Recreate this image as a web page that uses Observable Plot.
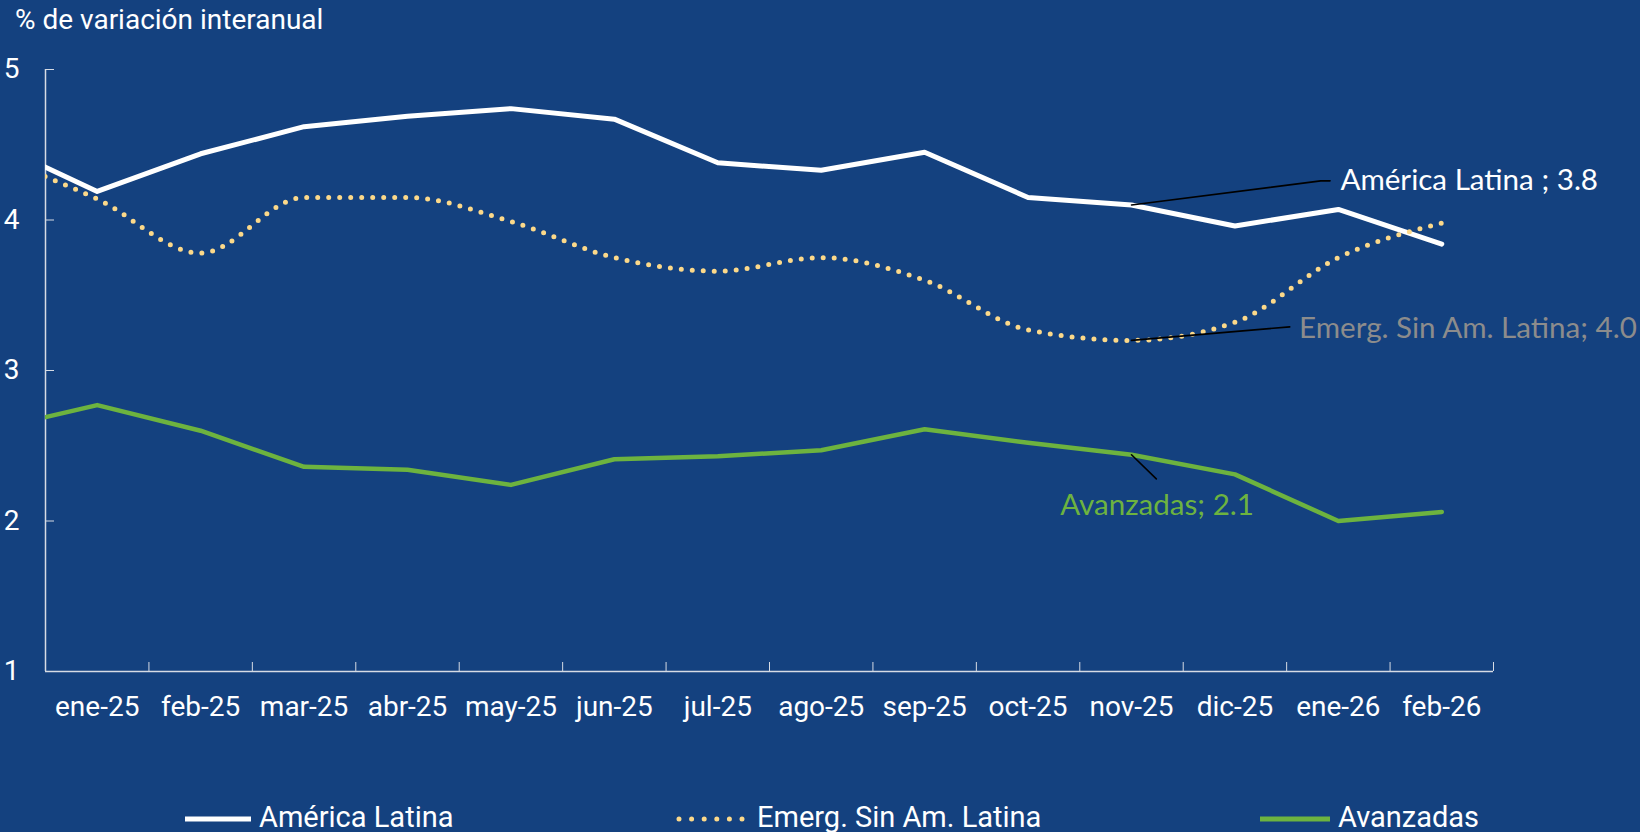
<!DOCTYPE html>
<html>
<head>
<meta charset="utf-8">
<script src="https://cdn.jsdelivr.net/npm/d3@7"></script>
<script src="https://cdn.jsdelivr.net/npm/@observablehq/plot@0.6"></script>
<style>
  html, body { margin: 0; padding: 0; background: #14417f; width: 1640px; height: 832px; overflow: hidden; font-family: Roboto, sans-serif; color: #fff; }
  #title { position: relative; height: 44px; }
  #title span { position: absolute; left: 15px; top: 6px; font-size: 28px; line-height: 28px; white-space: nowrap; }
  #chart svg { display: block; }
  #legend { position: relative; height: 68px; }
  #legend .sw { position: absolute; top: 49px; }
  #legend .lb { position: absolute; top: 39px; font-size: 29px; line-height: 28px; white-space: nowrap; }
</style>
</head>
<body>
<div id="title"><span>% de variación interanual</span></div>
<div id="chart"></div>
<div id="legend"></div>
<script>
// Periods (the first, dic-24, lies before the axis start and is clipped)
const periods = ["dic-24","ene-25","feb-25","mar-25","abr-25","may-25","jun-25","jul-25","ago-25","sep-25","oct-25","nov-25","dic-25","ene-26","feb-26"];
const tickLabels = ["ene-25","feb-25","mar-25","abr-25","may-25","jun-25","jul-25","ago-25","sep-25","oct-25","nov-25","dic-25","ene-26","feb-26"];
const yTicks = [1, 2, 3, 4, 5];

const americaLatina = [4.51, 4.19, 4.44, 4.62, 4.69, 4.74, 4.67, 4.38, 4.33, 4.45, 4.15, 4.10, 3.96, 4.07, 3.84];
const emergSinAL    = [4.42, 4.14, 3.78, 4.15, 4.15, 3.99, 3.75, 3.66, 3.75, 3.60, 3.27, 3.20, 3.32, 3.75, 3.98];
const avanzadas     = [2.61, 2.77, 2.60, 2.36, 2.34, 2.24, 2.41, 2.43, 2.47, 2.61, 2.52, 2.44, 2.31, 2.00, 2.06];

const seriesNames = ["América Latina", "Emerg. Sin Am. Latina", "Avanzadas"];
const colors = { al: "#ffffff", em: "#fcd98a", av: "#6db33f" };

const rows = periods.map((p, k) => ({ i: k - 1, label: p, al: americaLatina[k], em: emergSinAL[k], av: avanzadas[k] }));
const last = periods.length - 1;
const nov = periods.indexOf("nov-25");

const axisColor = "#d6dbe4";
const boundaries = d3.range(0.5, tickLabels.length, 1);
const annFont = "Lato, sans-serif";
const annSize = 29.6;

const plot = Plot.plot({
  width: 1640,
  height: 720,
  marginLeft: 45,
  marginRight: 147,
  marginTop: 25,
  marginBottom: 93,
  style: { background: "transparent", color: "#fff", fontFamily: "Roboto, sans-serif", overflow: "visible" },
  x: { type: "linear", domain: [-0.5, tickLabels.length - 0.5], axis: null },
  y: { type: "linear", domain: [1, 5], axis: null },
  marks: [
    // axis lines
    Plot.ruleX([-0.5], { y1: 1, y2: 5, stroke: axisColor, strokeWidth: 1.5 }),
    Plot.ruleY([1], { x1: -0.5, x2: tickLabels.length - 0.5, stroke: axisColor, strokeWidth: 1.5 }),
    Plot.axisX(boundaries, { tickSize: -9, tickFormat: () => "", stroke: axisColor, label: null }),
    Plot.axisY(yTicks.slice(1), { tickSize: -9, tickFormat: () => "", stroke: axisColor, label: null }),
    Plot.axisX(d3.range(tickLabels.length), { tickSize: 0, tickPadding: 25, tickFormat: (i) => tickLabels[i], fontSize: 28, fill: "#fff", label: null }),
    Plot.axisY(yTicks, { tickSize: 0, tickPadding: 26, tickFormat: d3.format("d"), fontSize: 28, fill: "#fff", label: null }),
    // series
    Plot.lineY(rows, { x: "i", y: "av", stroke: colors.av, strokeWidth: 4.5, clip: true }),
    Plot.lineY(rows, { x: "i", y: "al", stroke: colors.al, strokeWidth: 5, clip: true }),
    Plot.lineY(rows, { x: "i", y: "em", stroke: colors.em, strokeWidth: 5, strokeDasharray: "0 11", strokeLinecap: "round", curve: "monotone-x", clip: true }),
    // annotation leaders
    Plot.line([[10, americaLatina[nov]], [11.83, 4.26], [11.92, 4.26]], { stroke: "#000", strokeWidth: 1.6 }),
    Plot.line([[10, emergSinAL[nov]], [11.53, 3.29]], { stroke: "#000", strokeWidth: 1.6 }),
    Plot.line([[10, avanzadas[nov]], [10.24, 2.28]], { stroke: "#000", strokeWidth: 1.6 }),
    // annotation labels
    Plot.text([`${seriesNames[0]} ; ${americaLatina[last].toFixed(1)}`], { x: 12.02, y: 4.26, text: d => d, textAnchor: "start", fontFamily: annFont, fontSize: annSize, fill: "#ffffff" }),
    Plot.text([`${seriesNames[1]}; ${emergSinAL[last].toFixed(1)}`], { x: 11.62, y: 3.28, text: d => d, textAnchor: "start", fontFamily: annFont, fontSize: annSize, fill: "#8c8c8c" }),
    Plot.text([`${seriesNames[2]}; ${avanzadas[last].toFixed(1)}`], { x: 9.31, y: 2.10, text: d => d, textAnchor: "start", fontFamily: annFont, fontSize: annSize, fill: colors.av })
  ]
});
document.getElementById("chart").appendChild(plot);

// Legend
const legend = document.getElementById("legend");
const items = [
  { name: seriesNames[0], color: colors.al, dash: null, sw: 185, lb: 259 },
  { name: seriesNames[1], color: colors.em, dash: "0 11", sw: 679, lb: 757 },
  { name: seriesNames[2], color: colors.av, dash: null, sw: 1260, lb: 1338 }
];
for (const it of items) {
  const w = it.lb - it.sw - 8;
  const s = d3.create("svg").attr("class", "sw").attr("width", w + 6).attr("height", 12)
    .style("left", (it.sw - 3) + "px");
  s.append("line").attr("x1", 3).attr("x2", w + 3).attr("y1", 6).attr("y2", 6)
    .attr("stroke", it.color).attr("stroke-width", 5)
    .attr("stroke-linecap", it.dash ? "round" : "butt")
    .attr("stroke-dasharray", it.dash ? "0 12.6" : null);
  legend.appendChild(s.node());
  const t = document.createElement("span");
  t.className = "lb"; t.style.left = it.lb + "px"; t.textContent = it.name;
  legend.appendChild(t);
}
</script>
</body>
</html>
